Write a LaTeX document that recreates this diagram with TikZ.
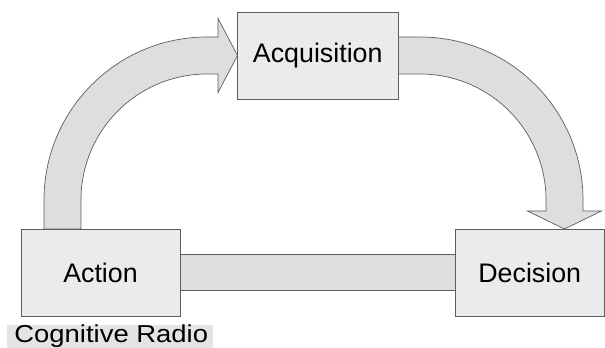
\documentclass[tikz,border=0pt]{standalone}
\usepackage{fontspec}
\setmainfont{Liberation Sans}
\definecolor{edgegray}{HTML}{5E5E5E}
\definecolor{boxfill}{HTML}{EBEBEB}
\definecolor{flowfill}{HTML}{DEDEDE}
\definecolor{tagfill}{HTML}{E4E4E4}
\tikzset{
  stagebox/.style={draw=edgegray, fill=boxfill, line width=0.8pt, rectangle,
    inner sep=0pt, outer sep=0pt, minimum height=87pt,
    font=\fontsize{26.8}{30}\selectfont},
  flow/.style={draw=edgegray, fill=flowfill, line width=0.7pt, line join=miter},
}
\begin{document}
\begin{tikzpicture}[x=1pt, y=1pt]
\useasboundingbox (0,0) rectangle (605,348);
\fill[white] (0,0) rectangle (605,348);

% curved flow: Action -> Acquisition
\path[flow] (44,119) -- (44,148) arc[start angle=180, end angle=90, radius=163]
  -- (218,311) -- (218,329.5) -- (237.5,292.5) -- (218,255.5) -- (218,274)
  -- (207,274) arc[start angle=90, end angle=180, radius=126]
  -- (81,119) -- cycle;

% curved flow: Acquisition -> Decision
\path[flow] (396,311) -- (420,311) arc[start angle=90, end angle=0, radius=163]
  -- (583,137) -- (601.5,137) -- (564.5,119) -- (527.5,137) -- (546,137)
  -- (546,148) arc[start angle=0, end angle=90, radius=126]
  -- (396,274) -- cycle;

% straight band between Action and Decision
\path[flow] (178,58) rectangle (457,93.3);

% stages
\node[stagebox, minimum width=159pt]   (act) at (100.5,75.5)  {Action};
\node[stagebox, minimum width=160.5pt] (acq) at (317.75,292.5) {Acquisition};
\node[stagebox, minimum width=149.5pt] (dec) at (529.75,75.5) {Decision};

% caption tag
\node[fill=tagfill, anchor=south west, inner sep=0pt, outer sep=0pt,
      minimum width=206pt, text height=17.7pt, text depth=5.3pt,
      font=\fontsize{24.5}{28}\selectfont] (tag) at (7,0)
      {\hspace*{2.5pt}\scalebox{1.12}[1]{Cognitive Radio}\hfill};
\end{tikzpicture}
\end{document}
